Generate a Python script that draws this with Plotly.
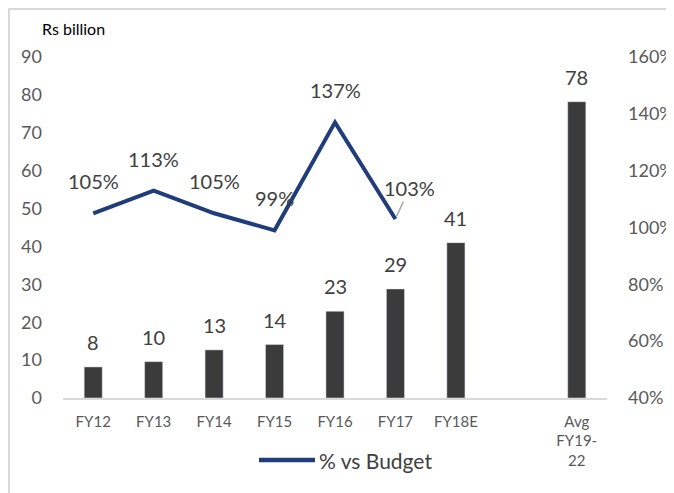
import plotly.graph_objects as go

categories = ["FY12", "FY13", "FY14", "FY15", "FY16", "FY17", "FY18E", "", "Avg<br>FY19-<br>22"]
bar_pos = [0, 1, 2, 3, 4, 5, 6, 8]
bar_values = [8.2, 9.6, 12.7, 14.1, 22.9, 28.8, 41.0, 78.2]
bar_labels = ["8", "10", "13", "14", "23", "29", "41", "78"]
line_pos = [0, 1, 2, 3, 4, 5]
line_values = [105, 113, 105, 99, 137, 103]
line_labels = ["105%", "113%", "105%", "99%", "137%", "103%"]
series_name = "% vs Budget"

FONT = "Lato, Carlito, Calibri, sans-serif"
OFF = 8  # browser body margin
W, H = 674 - OFF, 493 - OFF
L, T = 63 - OFF, 57 - OFF
R = W - (607 - OFF)
B = H - (398 - OFF)
pw, ph = W - L - R, H - T - B
LINE_COLOR = "#1F3D7A"

def px(xp):
    return (xp - OFF - L) / pw

def py(yp):
    return (H - B - (yp - OFF)) / ph

fig = go.Figure()
fig.add_trace(go.Bar(x=bar_pos, y=bar_values, width=0.3, marker_color="#3B3B3B",
                     showlegend=False, yaxis="y", name="Rs billion"))
fig.add_trace(go.Scatter(x=line_pos, y=line_values, mode="lines", name=series_name,
                         line=dict(color=LINE_COLOR, width=4), yaxis="y2", showlegend=False))

ann = []
for x, v, t in zip(bar_pos, bar_values, bar_labels):
    ann.append(dict(x=x, y=v, xref="x", yref="y", text=t, showarrow=False, yshift=25,
                    yanchor="middle", font=dict(size=20, color="#404040", family=FONT)))
for i, (x, v, t) in enumerate(zip(line_pos, line_values, line_labels)):
    if i == len(line_pos) - 1:
        ann.append(dict(x=x, y=v, xref="x", yref="y2", text=t, showarrow=True, arrowhead=0,
                        arrowcolor="#A6A6A6", arrowwidth=1.5, ax=14, ay=-31, standoff=3,
                        font=dict(size=20, color="#404040", family=FONT)))
    else:
        ann.append(dict(x=x, y=v, xref="x", yref="y2", text=t, showarrow=False, yshift=32,
                        yanchor="middle", font=dict(size=20, color="#404040", family=FONT)))
ann.append(dict(x=px(40), y=py(28), xref="paper", yref="paper", text="Rs billion",
                showarrow=False, xanchor="left", yanchor="middle",
                font=dict(size=16, color="#000000", family=FONT)))
# legend entry
ann.append(dict(x=px(317), y=py(460), xref="paper", yref="paper", text=series_name,
                showarrow=False, xanchor="left", yanchor="middle",
                font=dict(size=21, color="#404040", family=FONT)))

shapes = [
    dict(type="rect", xref="paper", yref="paper", x0=px(OFF + 1), x1=px(720), y0=py(OFF + 1), y1=py(540),
         line=dict(color="#D9D9D9", width=2), fillcolor="rgba(0,0,0,0)", layer="below"),
    dict(type="line", xref="paper", yref="paper", x0=px(259), x1=px(315), y0=py(460), y1=py(460),
         line=dict(color=LINE_COLOR, width=4.5)),
]

fig.update_layout(
    width=W, height=H, margin=dict(l=L, r=R, t=T, b=B, autoexpand=False),
    paper_bgcolor="white", plot_bgcolor="white",
    font=dict(family=FONT, color="#595959"),
    showlegend=False,
    xaxis=dict(range=[-0.5, 8.5], tickmode="array", tickvals=list(range(9)), ticktext=categories,
               showgrid=False, zeroline=False, showline=True, linecolor="#D9D9D9", linewidth=1.5,
               automargin=False,
               ticks="", ticklabelstandoff=9, tickfont=dict(size=15, color="#595959", family=FONT)),
    yaxis=dict(range=[0, 90], dtick=10, showgrid=False, zeroline=False, showline=False,
               automargin=False,
               ticklabelstandoff=20, tickfont=dict(size=18, color="#595959", family=FONT)),
    yaxis2=dict(range=[40, 160], dtick=20, ticksuffix="%", overlaying="y", side="right",
                showgrid=False, zeroline=False, showline=False, ticklabelstandoff=20,
                automargin=False,
                tickfont=dict(size=18, color="#595959", family=FONT)),
    annotations=ann, shapes=shapes,
)

fig.write_html("out.html")
